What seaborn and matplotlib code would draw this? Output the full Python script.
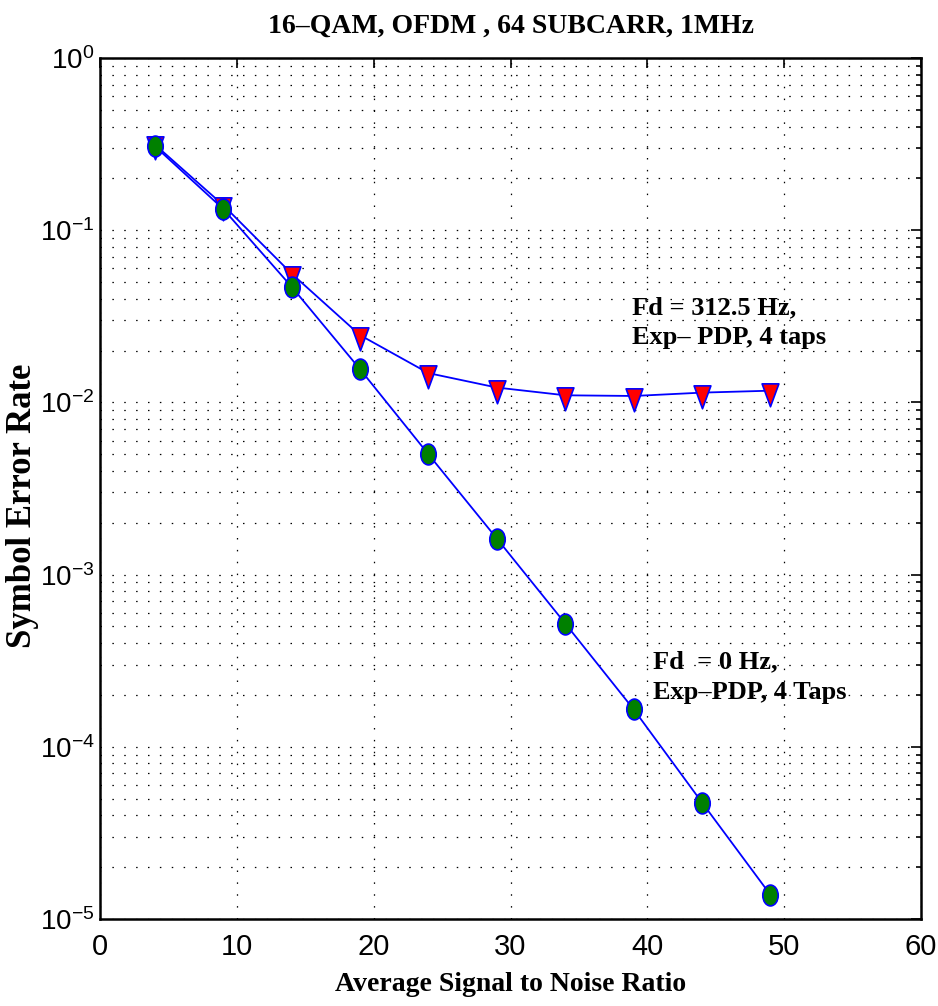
import numpy as np
import pandas as pd
import matplotlib
matplotlib.use("Agg")
import matplotlib.pyplot as plt
import seaborn as sns
from matplotlib.path import Path
from matplotlib.markers import MarkerStyle
from matplotlib.transforms import Affine2D
from matplotlib.ticker import LogLocator, NullFormatter, FixedLocator

# ---- data ----
snr_db = [4, 9, 14, 19, 24, 29, 34, 39, 44, 49]
ser_fd_312 = [0.315, 0.140, 0.056, 0.0246, 0.0148, 0.0122, 0.0110, 0.0109, 0.0114, 0.0117]
ser_fd_0 = [0.308, 0.133, 0.047, 0.0156, 0.0050, 0.00162, 0.00052, 0.000165, 0.0000474, 0.0000138]
x_ticks = [0, 10, 20, 30, 40, 50, 60]
y_limits = [1e-5, 1e0]
title_text = "16\u2013QAM, OFDM , 64 SUBCARR, 1MHz"
x_label = "Average Signal to Noise Ratio"
y_label = "Symbol Error Rate"
note_312 = "Fd = 312.5 Hz,\nExp\u2013 PDP, 4 taps"
note_312_pos = (38.9, 0.0291)
note_0 = "Fd  = 0 Hz,\nExp\u2013PDP, 4 Taps"
note_0_pos = (40.4, 2.54e-4)

df312 = pd.DataFrame({"snr": snr_db, "ser": ser_fd_312})
df0 = pd.DataFrame({"snr": snr_db, "ser": ser_fd_0})

sns.set_style("white")
plt.rcParams.update({
    "font.family": ["Liberation Sans", "DejaVu Sans"],
    "mathtext.fontset": "custom",
    "mathtext.rm": "Liberation Sans",
    "mathtext.it": "Liberation Sans:italic",
    "mathtext.bf": "Liberation Sans:bold",
    "axes.unicode_minus": True,
    "text.color": "black",
    "axes.labelcolor": "black",
    "xtick.color": "black",
    "ytick.color": "black",
})

fig = plt.figure(figsize=(9.38, 10.06), dpi=100)
ax = fig.add_axes([0.1066, 0.0865, 0.9819 - 0.1066, 0.9423 - 0.0865])

ellipse_marker = MarkerStyle(Path.unit_circle().transformed(Affine2D().scale(0.74, 1.0)))
tri_marker = MarkerStyle(Path([(0, -1), (-0.55, 0.5), (0.55, 0.5), (0, -1)],
                              [Path.MOVETO, Path.LINETO, Path.LINETO, Path.CLOSEPOLY]))

sns.lineplot(data=df312, x="snr", y="ser", ax=ax, color="blue", linewidth=1.3,
             marker=tri_marker, markersize=22, markerfacecolor="red",
             markeredgecolor="blue", markeredgewidth=1.2, zorder=3)
sns.lineplot(data=df0, x="snr", y="ser", ax=ax, color="blue", linewidth=1.3,
             marker=ellipse_marker, markersize=15, markerfacecolor="green",
             markeredgecolor="blue", markeredgewidth=1.2, zorder=4)

ax.set_yscale("log")
ax.set_xlim(x_ticks[0], x_ticks[-1])
ax.set_ylim(*y_limits)
ax.xaxis.set_major_locator(FixedLocator(x_ticks))
ax.yaxis.set_major_locator(LogLocator(base=10, numticks=10))
ax.yaxis.set_minor_locator(LogLocator(base=10, subs=np.arange(2, 10), numticks=20))
ax.yaxis.set_minor_formatter(NullFormatter())

dot = (0, (1.2, 8.3))
ax.grid(True, which="major", axis="both", color="black", linestyle=dot, linewidth=0.9)
ax.grid(True, which="minor", axis="y", color="black", linestyle=dot, linewidth=0.9)
ax.set_axisbelow(True)

ax.tick_params(which="both", direction="in", top=True, right=True, colors="black", width=1.2)
ax.tick_params(which="major", length=7)
ax.tick_params(which="minor", length=3.5)
ax.tick_params(axis="x", labelsize=21, pad=10)
ax.tick_params(axis="y", labelsize=20, pad=4)
for s in ax.spines.values():
    s.set_color("black")
    s.set_linewidth(1.8)

serif = ["Liberation Serif", "DejaVu Serif"]
ax.set_title(title_text, family=serif, fontweight="bold", fontsize=20, pad=18)
ax.set_xlabel(x_label, family=serif, fontweight="bold", fontsize=20)
ax.set_ylabel(y_label, family=serif, fontweight="bold", fontsize=25)
ax.xaxis.set_label_coords(0.5, -0.062)
ax.yaxis.set_label_coords(-0.0745, 0.48)

ax.text(*note_312_pos, note_312, family=serif, fontweight="bold", fontsize=19,
        ha="left", va="center", linespacing=1.4)
ax.text(*note_0_pos, note_0, family=serif, fontweight="bold", fontsize=19,
        ha="left", va="center", linespacing=1.4)

fig.savefig("out.png", dpi=100)
